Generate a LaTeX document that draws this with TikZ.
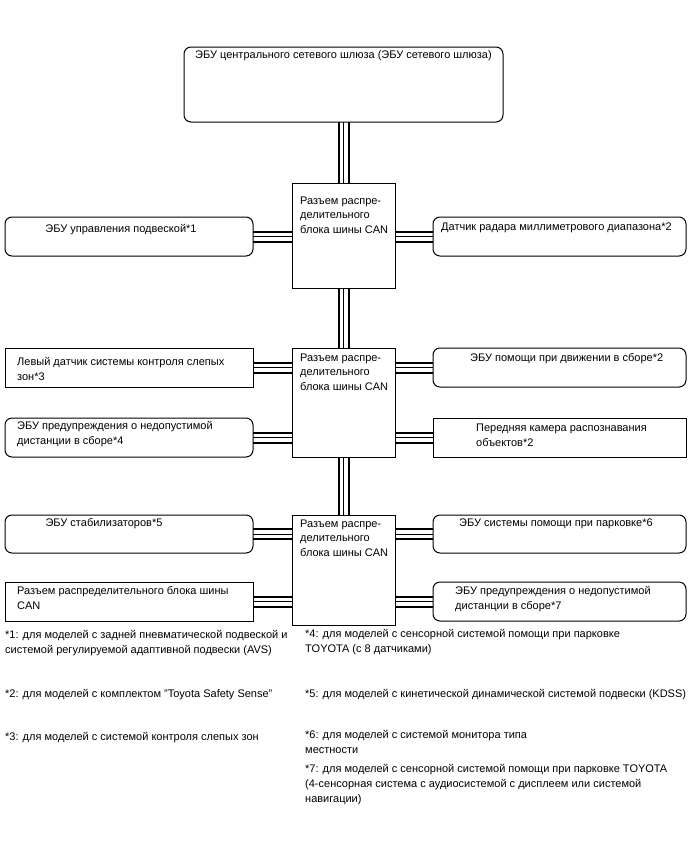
\documentclass[tikz,border=0pt]{standalone}
\usepackage{fontspec}
\setmainfont{Liberation Sans}
\usetikzlibrary{backgrounds}
\tikzset{
  rbox/.style={draw, line width=1pt, rounded corners=7pt, inner sep=0pt, outer sep=0pt, anchor=north west},
  sbox/.style={draw, line width=1pt, inner sep=0pt, outer sep=0pt, anchor=north west},
  txt/.style={font=\fontsize{11}{15}\selectfont, inner sep=0pt, anchor=base west, align=left},
  ctxt/.style={font=\fontsize{11}{15}\selectfont, inner sep=0pt, anchor=base, align=center},
  cantxt/.style={font=\fontsize{11}{14.5}\selectfont, inner sep=0pt, anchor=base west, align=left},
  bus/.style={draw=none, preaction={draw=black, line width=12pt}, preaction={draw=white, line width=8pt}, postaction={draw=black, line width=1pt}},
}
\begin{document}
\begin{tikzpicture}[x=1pt,y=-1pt]
\useasboundingbox (0,0) rectangle (688,852);
% boxes
\node[rbox, minimum width=319pt, minimum height=75pt] (top) at (184,47) {};
\node[sbox, minimum width=103pt, minimum height=105pt] (C1) at (292,183) {};
\node[sbox, minimum width=103pt, minimum height=109pt] (C2) at (292,348) {};
\node[sbox, minimum width=103pt, minimum height=110pt] (C3) at (292,515) {};
\node[rbox, minimum width=248pt, minimum height=39pt] (L1) at (5,217) {};
\node[rbox, minimum width=253pt, minimum height=39pt] (R1) at (433,217) {};
\node[sbox, minimum width=248pt, minimum height=39pt] (L2) at (5,348) {};
\node[rbox, minimum width=253pt, minimum height=39pt] (R2) at (433,348) {};
\node[rbox, minimum width=248pt, minimum height=39pt] (L3) at (5,418) {};
\node[sbox, minimum width=253pt, minimum height=39pt] (R3) at (433,418) {};
\node[rbox, minimum width=248pt, minimum height=38pt] (L4) at (5,515) {};
\node[rbox, minimum width=253pt, minimum height=38pt] (R4) at (433,515) {};
\node[sbox, minimum width=248pt, minimum height=39pt] (L5) at (5,582) {};
\node[rbox, minimum width=253pt, minimum height=39pt] (R5) at (433,582) {};
% texts (base anchor = baseline of last line)
\node[ctxt] (ttop) at (343.5,58) {ЭБУ центрального сетевого шлюза (ЭБУ сетевого шлюза)};
\node[cantxt] (tC1) at (300,233) {Разъем распре-\\делительного\\блока шины CAN};
\node[cantxt] (tC2) at (300,390) {Разъем распре-\\делительного\\блока шины CAN};
\node[cantxt] (tC3) at (300,556) {Разъем распре-\\делительного\\блока шины CAN};
\node[ctxt] (tL1) at (121,232) {ЭБУ управления подвеской*1};
\node[txt] (tR1) at (441,230) {Датчик радара миллиметрового диапазона*2};
\node[txt] (tL2) at (17,380) {Левый датчик системы контроля слепых\\зон*3};
\node[txt] (tR2) at (470,361) {ЭБУ помощи при движении в сборе*2};
\node[txt] (tL3) at (17,444) {ЭБУ предупреждения о недопустимой\\дистанции в сборе*4};
\node[txt] (tR3) at (476,446) {Передняя камера распознавания\\объектов*2};
\node[ctxt] (tL4) at (104,526) {ЭБУ стабилизаторов*5};
\node[txt] (tR4) at (459,526) {ЭБУ системы помощи при парковке*6};
\node[txt] (tL5) at (17,609) {Разъем распределительного блока шины\\CAN};
\node[txt] (tR5) at (455,609) {ЭБУ предупреждения о недопустимой\\дистанции в сборе*7};
% footnotes
\node[txt] (f1) at (5,653) {*1: для моделей с задней пневматической подвеской и\\системой регулируемой адаптивной подвески (AVS)};
\node[txt] (f4) at (305,652) {*4: для моделей с сенсорной системой помощи при парковке\\TOYOTA (с 8 датчиками)};
\node[txt] (f2) at (5,697) {*2: для моделей с комплектом "Toyota Safety Sense"};
\node[txt] (f5) at (305,697) {*5: для моделей с кинетической динамической системой подвески (KDSS)};
\node[txt] (f3) at (5,740) {*3: для моделей с системой контроля слепых зон};
\node[txt] (f6) at (305,753) {*6: для моделей с системой монитора типа\\местности};
\node[txt] (f7) at (305,802) {*7: для моделей с сенсорной системой помощи при парковке TOYOTA\\(4-сенсорная система с аудиосистемой с дисплеем или системой\\навигации)};
% buses
\begin{scope}[on background layer]
\fill[white] (0,0) rectangle (688,852);
\draw[bus] (top.south) -- (C1.north);
\draw[bus] (C1.south) -- (C2.north);
\draw[bus] (C2.south) -- (C3.north);
\draw[bus] (L1.east) -- (L1.east -| C1.west);
\draw[bus] (R1.west) -- (R1.west -| C1.east);
\draw[bus] (L2.east) -- (L2.east -| C2.west);
\draw[bus] (R2.west) -- (R2.west -| C2.east);
\draw[bus] (L3.east) -- (L3.east -| C2.west);
\draw[bus] (R3.west) -- (R3.west -| C2.east);
\draw[bus] (L4.east) -- (L4.east -| C3.west);
\draw[bus] (R4.west) -- (R4.west -| C3.east);
\draw[bus] (L5.east) -- (L5.east -| C3.west);
\draw[bus] (R5.west) -- (R5.west -| C3.east);
\end{scope}
\end{tikzpicture}
\end{document}
